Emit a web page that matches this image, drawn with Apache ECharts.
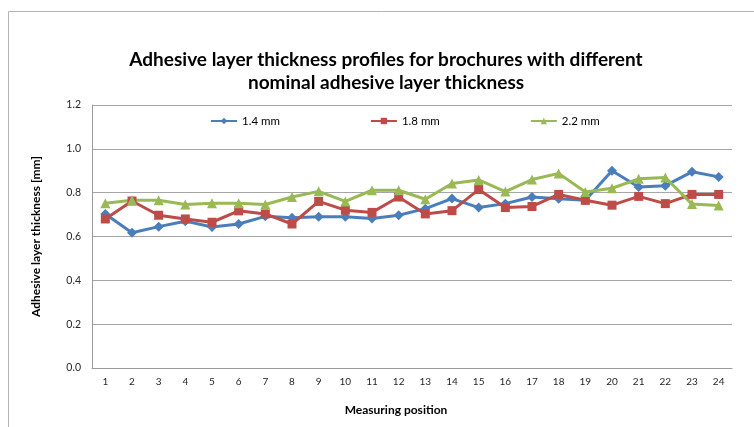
<!DOCTYPE html>
<html>
<head>
<meta charset="utf-8">
<script src="https://cdn.jsdelivr.net/npm/echarts@6/dist/echarts.min.js"></script>
<style>html,body{margin:0;padding:0;background:#fff}#c{width:754px;height:427px}</style>
</head>
<body>
<div id="c"></div>
<script>
const categories = ['1','2','3','4','5','6','7','8','9','10','11','12','13','14','15','16','17','18','19','20','21','22','23','24'];
const s14 = [0.703,0.617,0.645,0.670,0.643,0.657,0.692,0.685,0.690,0.690,0.682,0.697,0.727,0.773,0.732,0.750,0.780,0.772,0.765,0.900,0.826,0.832,0.895,0.872];
const s18 = [0.680,0.762,0.697,0.680,0.665,0.717,0.703,0.657,0.760,0.720,0.710,0.780,0.703,0.718,0.814,0.732,0.737,0.792,0.765,0.743,0.783,0.750,0.792,0.792];
const s22 = [0.752,0.765,0.765,0.746,0.752,0.752,0.746,0.780,0.806,0.760,0.811,0.811,0.770,0.842,0.858,0.805,0.860,0.888,0.803,0.820,0.863,0.869,0.748,0.742];
const seriesNames = ['1.4 mm','1.8 mm','2.2 mm'];
const yTicks = {min:0, max:1.2, interval:0.2};

const chart = echarts.init(document.getElementById('c'));
const FONT = 'Lato';
const mk = (name, data, color, symbol, size) => ({
  name, type:'line', data, symbol, symbolSize:size,
  itemStyle:{color}, lineStyle:{color, width:3}, emphasis:{disabled:true}
});
chart.setOption({
  animation:false,
  textStyle:{fontFamily:FONT},
  graphic:[{type:'rect', shape:{x:8.5,y:11.5,width:800,height:500}, style:{fill:'none', stroke:'#b4b4b4', lineWidth:1}, silent:true}],
  title:{
    text:'Adhesive layer thickness profiles for brochures with different\nnominal adhesive layer thickness',
    left:381, top:43, textAlign:'center',
    textStyle:{fontFamily:FONT, fontWeight:'bold', fontSize:19, lineHeight:23, color:'#000'}
  },
  legend:{
    data:seriesNames, top:110, left:205, itemGap:90, itemWidth:26, itemHeight:8,
    textStyle:{fontFamily:FONT, fontSize:11.5, color:'#000'}
  },
  grid:{left:92, right:22, top:105, bottom:59},
  xAxis:{
    type:'category', data:categories, boundaryGap:true,
    axisLine:{lineStyle:{color:'#9a9a9a', width:1}},
    axisTick:{show:false},
    axisLabel:{color:'#262626', fontSize:10, margin:9, interval:0},
    name:'Measuring position', nameLocation:'middle', nameGap:36,
    nameTextStyle:{fontWeight:'bold', fontSize:12, color:'#000', padding:[0,32,0,0]}
  },
  yAxis:{
    type:'value', min:yTicks.min, max:yTicks.max, interval:yTicks.interval,
    axisLine:{show:true, lineStyle:{color:'#9a9a9a', width:1}},
    axisTick:{show:false},
    axisLabel:{color:'#262626', fontSize:10.5, margin:11, formatter:v=>v.toFixed(1)},
    splitLine:{lineStyle:{color:'#a6a6a6', width:1}},
    name:'Adhesive layer thickness [mm]', nameLocation:'middle', nameGap:50,
    nameTextStyle:{fontWeight:'bold', fontSize:12, color:'#000'}
  },
  series:[
    mk(seriesNames[0], s14, '#4A7EBB', 'diamond', 10),
    mk(seriesNames[1], s18, '#BE4B48', 'rect', 9),
    mk(seriesNames[2], s22, '#98B954', 'triangle', 10)
  ]
});
</script>
</body>
</html>
